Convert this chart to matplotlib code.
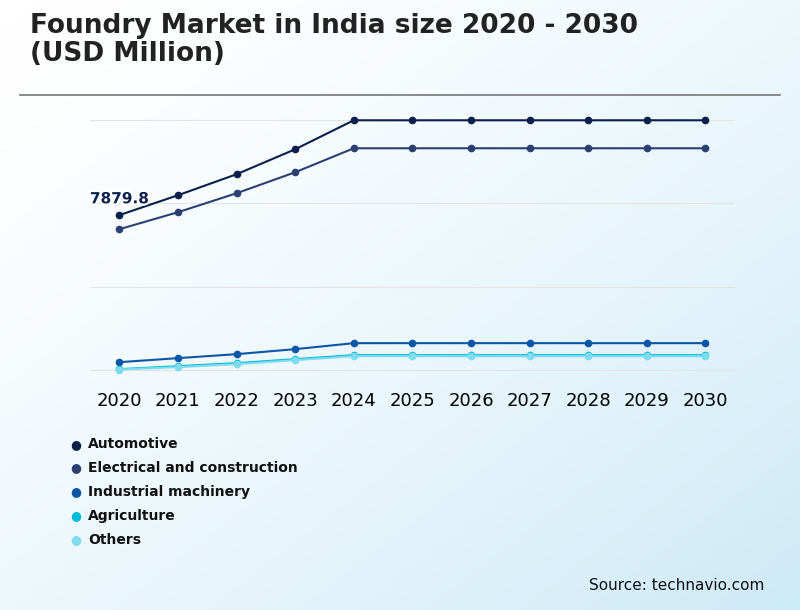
import numpy as np
import matplotlib.pyplot as plt
import matplotlib.patheffects as pe
from matplotlib.colors import LinearSegmentedColormap

years = list(range(2020, 2031))
automotive = [7879.8, 8890, 9957, 11227, 12700] + [12700] * 6
electrical = [7163, 8027, 8992, 10058, 11278] + [11278] * 6
industrial = [406, 610, 813, 1067, 1372] + [1372] * 6
agriculture = [51, 203, 356, 559, 762] + [762] * 6
others = [30, 152, 305, 508, 711] + [711] * 6

series = [
    ("Automotive", automotive, "#0b1f4b"),
    ("Electrical and construction", electrical, "#2b3f73"),
    ("Industrial machinery", industrial, "#0b56a6"),
    ("Agriculture", agriculture, "#00bcd8"),
    ("Others", others, "#7fdcef"),
]

fig = plt.figure(figsize=(8, 6.1), dpi=100)

# soft blue gradient background, white top-left to light blue bottom-right
bg = fig.add_axes([0, 0, 1, 1], zorder=-10)
gx, gy = np.meshgrid(np.linspace(0, 1, 200), np.linspace(0, 1, 200))
g = np.clip((gx + gy) / 2, 0, 1) ** 1.5
bg.imshow(g, cmap=LinearSegmentedColormap.from_list("bg", ["#ffffff", "#cdeaf7"]),
          extent=[0, 1, 0, 1], aspect="auto", origin="upper")
bg.axis("off")

fig.text(0.038, 0.935, "Foundry Market in India size 2020 - 2030\n(USD Million)",
         fontsize=19, fontweight="bold", color="#222222", va="center", linespacing=1.1)
fig.add_artist(plt.Line2D([0.025, 0.975], [0.845, 0.845], color="#777777", lw=1.2))

ax = fig.add_axes([0.1125, 0.385, 0.806, 0.426])
ax.set_facecolor("none")
for name, vals, c in series:
    ax.plot(years, vals, color=c, marker="o", ms=4.5, lw=1.5, label=name)

ax.set_ylim(-254, 12954)
ax.set_xlim(2019.5, 2030.5)
ax.set_yticks([0, 4217, 8484, 12700])
ax.set_yticklabels([])
ax.grid(axis="y", color="#e3e3e3", lw=0.8)
ax.tick_params(axis="y", length=0)
ax.tick_params(axis="x", length=0, labelsize=13, pad=12)
ax.set_xticks(years)
for s in ax.spines.values():
    s.set_visible(False)
ax.text(2020, 7879.8 + 450, "7879.8", ha="center", va="bottom",
        fontsize=11, fontweight="bold", color="#0b1f4b",
        path_effects=[pe.withStroke(linewidth=3, foreground="white")])

for i, (name, vals, c) in enumerate(series):
    y = 0.272 - i * 0.0393
    fig.text(0.095, y, "●", color=c, fontsize=9, va="center", ha="center")
    fig.text(0.11, y, name, fontsize=10, fontweight="bold", va="center", color="#111111")

fig.text(0.955, 0.033, "Source: technavio.com", fontsize=11, ha="right", color="#111111")

fig.savefig("out.png", dpi=100)
